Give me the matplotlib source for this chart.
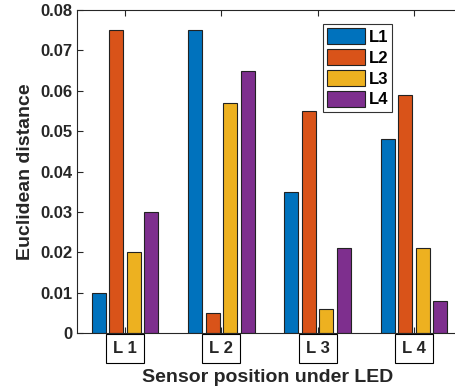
import numpy as np
import matplotlib.pyplot as plt

plt.rcParams['font.family'] = ['Liberation Sans', 'DejaVu Sans']
plt.rcParams['font.weight'] = 'bold'

groups = ['L 1', 'L 2', 'L 3', 'L 4']
series = ['L1', 'L2', 'L3', 'L4']
l1 = [0.010, 0.075, 0.035, 0.048]
l2 = [0.075, 0.005, 0.055, 0.059]
l3 = [0.020, 0.057, 0.006, 0.021]
l4 = [0.030, 0.065, 0.021, 0.008]
colors = ['#0072BD', '#D95319', '#EDB120', '#7E2F8E']

fig = plt.figure(figsize=(4.56, 3.89), dpi=100)
ax = fig.add_axes([77 / 456, 1 - 333 / 389, (462 - 77) / 456, (333 - 10) / 389])

x = np.arange(1, 5)
step = 0.727 / 4
for i, vals in enumerate([l1, l2, l3, l4]):
    ax.bar(x + (i - 1.5) * step, vals, width=step * 0.8, color=colors[i],
           edgecolor='#222222', linewidth=0.8, label=series[i])

ax.set_xlim(0.5, 4.5)
ax.set_ylim(0, 0.08)
ax.set_yticks(np.arange(0, 0.081, 0.01))
ax.set_yticklabels(['0'] + ['%.2f' % v for v in np.arange(0.01, 0.081, 0.01)])
ax.set_xticks(x)
ax.set_xticklabels(groups)
ax.tick_params(direction='in', top=True, right=True, length=4, width=0.8,
               labelsize=12, colors='#262626')
ax.tick_params(axis='x', pad=6, labelsize=12)
for lab in ax.get_xticklabels():
    lab.set_fontweight('bold')
    lab.set_bbox(dict(facecolor='white', edgecolor='black', linewidth=0.8, pad=5))
for lab in ax.get_yticklabels():
    lab.set_fontweight('bold')
for s in ax.spines.values():
    s.set_color('#262626')
    s.set_linewidth(0.8)

ax.set_ylabel('Euclidean distance', fontsize=14, fontweight='bold', color='#262626',
              labelpad=4)
fig.text(268 / 456, 1 - 377 / 389, 'Sensor position under LED', fontsize=14,
         fontweight='bold', color='#262626', ha='center', va='center')

leg = ax.legend(loc='upper left', bbox_to_anchor=((323 - 77) / 385, 1 - 14 / 323),
                fontsize=12, frameon=True, fancybox=False, edgecolor='black',
                handlelength=2.3, handleheight=1.1, handletextpad=0.2,
                labelspacing=0.25, borderpad=0.25, borderaxespad=0)
leg.get_frame().set_linewidth(0.8)
for t in leg.get_texts():
    t.set_fontweight('bold')

fig.savefig('out.png', dpi=100)
